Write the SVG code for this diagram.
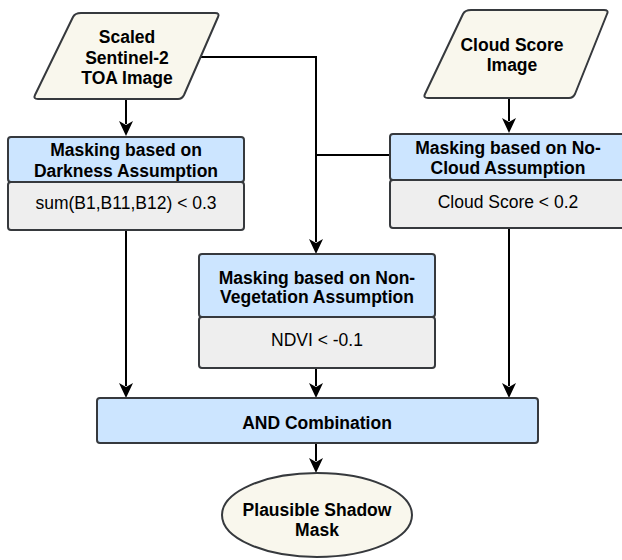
<svg xmlns="http://www.w3.org/2000/svg" width="622" height="560" viewBox="0 0 622 560">
<defs>
<style>
.hdr{fill:#cce5ff;stroke:#36393d;stroke-width:2}
.body{fill:#eeeeee;stroke:#36393d;stroke-width:2}
.io{fill:#f9f7ed;stroke:#36393d;stroke-width:2;stroke-linejoin:round}
.b{font-family:"Liberation Sans",Arial,sans-serif;font-weight:bold;font-size:17.5px;text-anchor:middle;fill:#000}
.r{font-family:"Liberation Sans",Arial,sans-serif;font-size:17.5px;text-anchor:middle;fill:#000}
.c{fill:none;stroke:#000;stroke-width:2}
</style>
<path id="ah" d="M-7,-15 L0,-11 L7,-15 L0,0 Z" fill="#000"/>
</defs>
<g id="connectors">
<path class="c" d="M182,57 H316 V242"/>
<path class="c" d="M316,155 H390"/>
<path class="c" d="M126,99 V124"/>
<path class="c" d="M509,98 V121"/>
<path class="c" d="M126,230 V386"/>
<path class="c" d="M509,228 V386"/>
<path class="c" d="M316,368 V386"/>
<path class="c" d="M316,443 V461"/>
<use href="#ah" x="316" y="254"/>
<use href="#ah" x="126" y="136"/>
<use href="#ah" x="509" y="133"/>
<use href="#ah" x="126" y="398"/>
<use href="#ah" x="509" y="398"/>
<use href="#ah" x="316" y="398"/>
<use href="#ah" x="316" y="473"/>
</g>
<g id="sentinel">
<path class="io" d="M81,13 H215 Q220,13 218,17 L184,95 Q182,99 178,99 H38 Q33,99 35,95 L73,17 Q75,13 81,13 Z"/>
<text class="b" x="127" y="43">Scaled</text>
<text class="b" x="127" y="64">Sentinel-2</text>
<text class="b" x="127" y="84">TOA Image</text>
</g>
<g id="cloudscore">
<path class="io" d="M471,10 H604 Q609,10 607,14 L575,94 Q573,98 569,98 H428 Q423,98 425,94 L463,14 Q465,10 471,10 Z"/>
<text class="b" x="512" y="51">Cloud Score</text>
<text class="b" x="512" y="71">Image</text>
</g>
<g id="darkness">
<rect class="body" x="8" y="182" width="236" height="48" rx="3"/>
<rect class="hdr" x="8" y="137" width="236" height="45" rx="3"/>
<text class="b" x="126" y="156">Masking based on</text>
<text class="b" x="126" y="177">Darkness Assumption</text>
<text class="r" x="126" y="209">sum(B1,B11,B12) &lt; 0.3</text>
</g>
<g id="nocloud">
<rect class="body" x="390" y="180" width="236" height="48" rx="3"/>
<rect class="hdr" x="390" y="134" width="236" height="46" rx="3"/>
<text class="b" x="508" y="154">Masking based on No-</text>
<text class="b" x="508" y="174">Cloud Assumption</text>
<text class="r" x="508" y="208">Cloud Score &lt; 0.2</text>
</g>
<g id="nonveg">
<rect class="body" x="199" y="317" width="236" height="51" rx="3"/>
<rect class="hdr" x="199" y="254" width="236" height="63" rx="3"/>
<text class="b" x="317" y="284">Masking based on Non-</text>
<text class="b" x="317" y="303">Vegetation Assumption</text>
<text class="r" x="317" y="346">NDVI &lt; -0.1</text>
</g>
<g id="and">
<rect class="hdr" x="97" y="398" width="441" height="45" rx="3"/>
<text class="b" x="317" y="429">AND Combination</text>
</g>
<g id="shadow">
<ellipse class="io" cx="317" cy="515" rx="95" ry="42"/>
<text class="b" x="317" y="516">Plausible Shadow</text>
<text class="b" x="317" y="536">Mask</text>
</g>
</svg>
